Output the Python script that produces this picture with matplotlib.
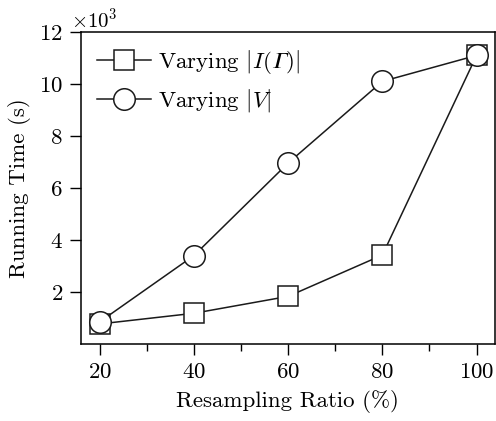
import matplotlib
matplotlib.use('Agg')
import matplotlib.pyplot as plt
from matplotlib.ticker import MultipleLocator, FixedLocator, ScalarFormatter

plt.rcParams['font.family'] = 'serif'
plt.rcParams['font.serif'] = ['cmr10']
plt.rcParams['mathtext.fontset'] = 'cm'
plt.rcParams['axes.formatter.use_mathtext'] = True
plt.rcParams['axes.unicode_minus'] = False

ratio = [20, 40, 60, 80, 100]
vary_i = [770, 1180, 1830, 3420, 11100]
vary_v = [850, 3400, 6960, 10100, 11100]
y_ticks = [2000, 4000, 6000, 8000, 10000, 12000]
labels = ['Varying $|I(\U0001D6E4)|$', 'Varying $|V|$']

fig = plt.figure(figsize=(4.96, 4.21), dpi=100)
ax = fig.add_axes([0.163, 0.183, 0.834, 0.741])

ax.plot(ratio, vary_i, color='#1a1a1a', lw=1.1, marker='s', ms=14.5,
        mfc='white', mec='#1a1a1a', mew=1.1, label=labels[0])
ax.plot(ratio, vary_v, color='#1a1a1a', lw=1.1, marker='o', ms=15.5,
        mfc='white', mec='#1a1a1a', mew=1.1, label=labels[1])

ax.set_xlim(16, 103.8)
ax.set_ylim(0, 12000)
ax.xaxis.set_major_locator(MultipleLocator(20))
ax.xaxis.set_minor_locator(MultipleLocator(10))
ax.yaxis.set_major_locator(FixedLocator(y_ticks))

# shows the x10^3 above the y axis
fmt = ScalarFormatter(useMathText=True)
fmt.set_powerlimits((3, 3))
ax.yaxis.set_major_formatter(fmt)
ax.yaxis.get_offset_text().set_fontsize(15)
ax.yaxis.get_offset_text().set_x(-0.025)

ax.tick_params(which='both', direction='out', top=False, right=False, labelsize=16.5, pad=5)
ax.tick_params(which='major', length=8, width=1)
ax.tick_params(which='minor', length=5, width=1)
for s in ax.spines.values():
    s.set_linewidth(1.1)

ax.set_xlabel('Resampling Ratio (%)', fontsize=16.5, labelpad=6)
ax.set_ylabel('Running Time (s)', fontsize=16.5, labelpad=6)

ax.legend(loc='upper left', frameon=False, fontsize=16.5, handlelength=2.35,
          borderaxespad=0.3, labelspacing=0.5, handletextpad=0.3)

fig.savefig('out.png', dpi=100)
